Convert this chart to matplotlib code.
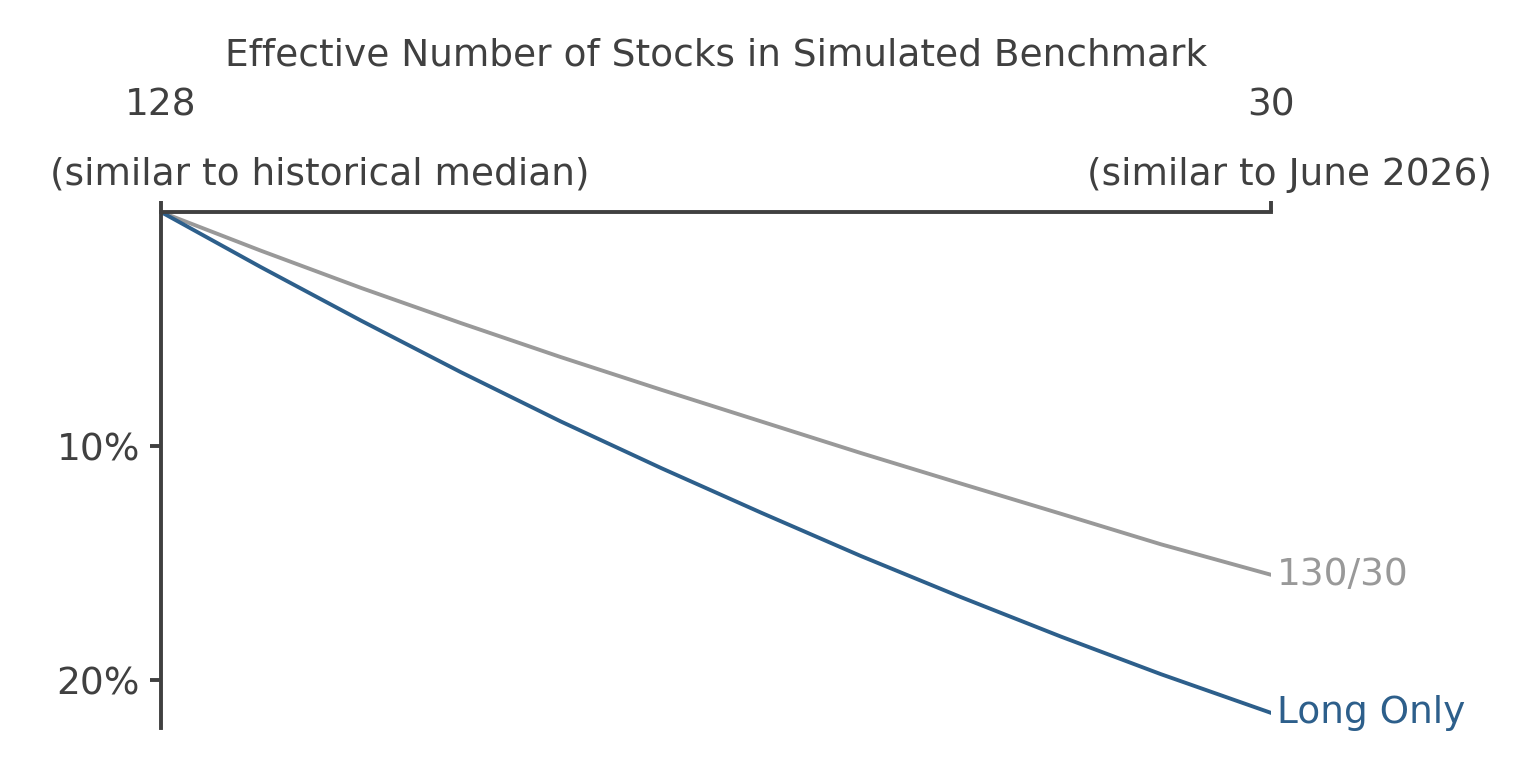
import matplotlib.pyplot as plt

# effective number of stocks (x) and tracking shortfall in % (y)
stocks = [128, 119.2, 110.3, 101.5, 92.7, 83.8, 75.0, 66.2, 57.4, 48.5, 39.7, 30]
long_only = [0, 2.35, 4.65, 6.85, 8.95, 10.95, 12.85, 14.7, 16.45, 18.15, 19.75, 21.4]
l130_30 = [0, 1.65, 3.25, 4.75, 6.2, 7.6, 8.95, 10.3, 11.6, 12.9, 14.2, 15.5]

txt = '#404040'
fs = 13.5
plt.rcParams['font.family'] = 'DejaVu Sans'

fig = plt.figure(figsize=(7.665, 3.85), dpi=200)
ax = fig.add_axes([0.105, 0.0545, 0.724, 0.6702])

ax.plot(stocks, l130_30, color='#999999', lw=1.4)
ax.plot(stocks, long_only, color='#2d5f8b', lw=1.4)
ax.text(29.5, l130_30[-1], '130/30', color='#999999', fontsize=fs, va='center', ha='left')
ax.text(29.5, long_only[-1], 'Long Only', color='#2d5f8b', fontsize=fs, va='center', ha='left')

ax.set_xlim(128, 30)
ax.set_ylim(22.05, 0)
ax.set_yticks([10, 20])
ax.set_yticklabels(['10%', '20%'])
ax.xaxis.tick_top()
ax.set_xticks([128, 30])
ax.set_xticklabels(['128', '30'])
fig.text(50 / 1533, 1 - 175 / 770, '(similar to historical median)', color=txt, fontsize=fs,
         ha='left', va='center')
fig.text(1492 / 1533, 1 - 175 / 770, '(similar to June 2026)', color=txt, fontsize=fs,
         ha='right', va='center')
fig.text(716 / 1533, 1 - 55 / 770, 'Effective Number of Stocks in Simulated Benchmark',
         color=txt, fontsize=fs, ha='center', va='center')

for s in ['right', 'bottom']:
    ax.spines[s].set_visible(False)
for s in ['left', 'top']:
    ax.spines[s].set_color(txt)
    ax.spines[s].set_linewidth(1.4)
ax.tick_params(colors=txt, labelsize=fs, width=1.4, length=4)
ax.tick_params(axis='x', pad=28)

fig.savefig('out.png', dpi=200)
